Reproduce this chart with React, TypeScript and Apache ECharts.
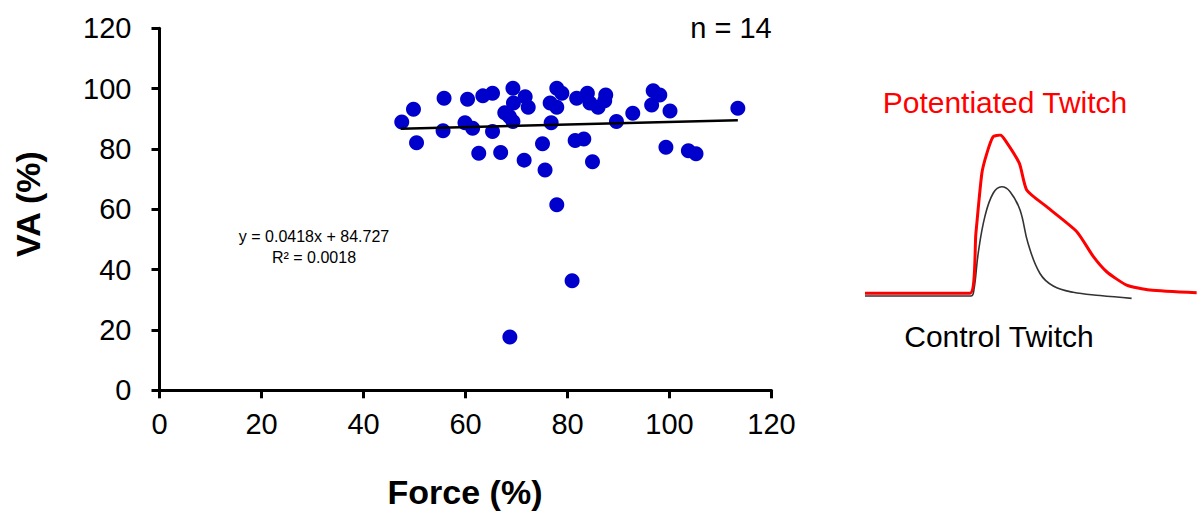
import { useEffect, useRef } from 'react'
import * as echarts from 'echarts/core'
import { GridComponent, GraphicComponent } from 'echarts/components'
import { ScatterChart, LineChart } from 'echarts/charts'
import { SVGRenderer } from 'echarts/renderers'

echarts.use([GridComponent, GraphicComponent, ScatterChart, LineChart, SVGRenderer])

// Force (%) vs VA (%) pairs
const forceValues = [
  47.5, 49.8, 50.4, 55.8, 55.6, 60.4, 59.9, 61.4, 63.4, 65.3,
  62.6, 65.3, 66.9, 69.3, 71.7, 69.4, 67.7, 72.3, 69.3, 68.6,
  71.5, 75.1, 75.6, 77.9, 78.9, 76.6, 77.9, 76.8, 81.5, 83.2,
  84.9, 81.8, 83.9, 84.4, 86.0, 87.5, 87.3, 89.6, 92.8, 96.8,
  98.1, 96.5, 100.1, 99.3, 103.7, 105.2, 113.4, 77.9, 80.9, 68.7,
]
const vaValues = [
  88.9, 93.2, 82.1, 96.8, 86.0, 96.5, 88.7, 86.9, 97.6, 98.5,
  78.6, 85.8, 78.8, 100.1, 97.3, 95.2, 92.0, 93.8, 89.1, 90.8,
  76.3, 81.7, 73.0, 100.1, 98.5, 95.2, 93.8, 88.7, 82.8, 83.3,
  75.8, 96.8, 98.5, 95.2, 93.8, 97.9, 96.0, 89.1, 91.8, 99.3,
  97.9, 94.6, 92.6, 80.6, 79.4, 78.4, 93.5, 61.5, 36.3, 17.7,
]

// trendline ends (y = 0.0418x + 84.727)
const trendX = [47.3, 113.4]
const trendY = [86.7, 89.5]

const axisTicks = [0, 20, 40, 60, 80, 100, 120]

// twitch traces (arbitrary time / force units)
const redTime = [0, 31.6, 33.4, 35.2, 36.7, 38.6, 40.7, 42.2, 46.5, 48.7, 54.7, 63.8, 68.8, 72.8, 78.8, 85.8, 99.9]
const redForce = [0, 0, 37.9, 75.8, 88.4, 98.9, 100, 96.8, 82.1, 65.3, 54.7, 38.9, 23.1, 13.6, 5.2, 2.1, 0.4]
const blackTime = [0, 31.9, 32.8, 34.1, 36.1, 38.6, 41.2, 43.7, 46.7, 49.1, 52.7, 56.7, 62.7, 70.8, 80.3]
const blackForce = [-1.7, -1.7, 2.1, 25.3, 48.4, 63.2, 67.3, 64.2, 52.6, 31.6, 12.5, 4.6, 0.6, -1.4, -3.2]

const FONT = 'Liberation Sans, Arial, sans-serif'

export default function App() {
  const chartRef = useRef<HTMLDivElement>(null)

  useEffect(() => {
    if (!chartRef.current) return
    const chart = echarts.init(chartRef.current, null, { renderer: 'svg' })

    const axisCommon = {
      type: 'value' as const,
      min: axisTicks[0],
      max: axisTicks[axisTicks.length - 1],
      interval: 20,
      axisLine: { show: true, lineStyle: { color: '#000', width: 3 } },
      axisTick: { show: true, length: 8, lineStyle: { color: '#000', width: 3 } },
      splitLine: { show: false },
    }

    chart.setOption({
      animation: false,
      grid: [
        { left: 159.5, top: 28.3, width: 612, height: 362 },
        { left: 865, top: 135, width: 332, height: 166.2 },
      ],
      xAxis: [
        {
          ...axisCommon,
          gridIndex: 0,
          axisLabel: { color: '#000', fontSize: 29, fontFamily: FONT, margin: 19 },
        },
        { type: 'value', gridIndex: 1, min: 0, max: 100, show: false },
      ],
      yAxis: [
        {
          ...axisCommon,
          gridIndex: 0,
          axisLabel: { color: '#000', fontSize: 29, fontFamily: FONT, margin: 28 },
        },
        { type: 'value', gridIndex: 1, min: -5, max: 100, show: false },
      ],
      series: [
        {
          type: 'scatter',
          xAxisIndex: 0,
          yAxisIndex: 0,
          symbolSize: 15,
          itemStyle: { color: '#0000cc', opacity: 1 },
          data: forceValues.map((f, i) => [f, vaValues[i]]),
          z: 3,
        },
        {
          type: 'line',
          xAxisIndex: 0,
          yAxisIndex: 0,
          symbol: 'none',
          lineStyle: { color: '#000', width: 2.5 },
          data: trendX.map((x, i) => [x, trendY[i]]),
          z: 4,
        },
        {
          type: 'line',
          xAxisIndex: 1,
          yAxisIndex: 1,
          symbol: 'none',
          smooth: 0.4,
          lineStyle: { color: '#333', width: 1.6 },
          data: blackTime.map((t, i) => [t, blackForce[i]]),
          z: 2,
        },
        {
          type: 'line',
          xAxisIndex: 1,
          yAxisIndex: 1,
          symbol: 'none',
          smooth: 0.2,
          lineStyle: { color: '#ff0000', width: 3 },
          data: redTime.map((t, i) => [t, redForce[i]]),
          z: 3,
        },
      ],
      graphic: [
        {
          type: 'text',
          x: 28,
          y: 204,
          rotation: Math.PI / 2,
          style: {
            text: 'VA (%)',
            font: `bold 34px ${FONT}`,
            fill: '#000',
            align: 'center',
            verticalAlign: 'middle',
          },
        },
        {
          type: 'text',
          x: 465,
          y: 492,
          style: {
            text: 'Force (%)',
            font: `bold 34px ${FONT}`,
            fill: '#000',
            align: 'center',
            verticalAlign: 'middle',
          },
        },
        {
          type: 'text',
          x: 731,
          y: 28,
          style: { text: 'n = 14', font: `29px ${FONT}`, fill: '#000', align: 'center', verticalAlign: 'middle' },
        },
        {
          type: 'text',
          x: 314,
          y: 236,
          style: { text: 'y = 0.0418x + 84.727', font: `16px ${FONT}`, fill: '#000', align: 'center', verticalAlign: 'middle' },
        },
        {
          type: 'text',
          x: 314,
          y: 257,
          style: { text: 'R² = 0.0018', font: `16px ${FONT}`, fill: '#000', align: 'center', verticalAlign: 'middle' },
        },
        {
          type: 'text',
          x: 1005,
          y: 102,
          style: { text: 'Potentiated Twitch', font: `30px ${FONT}`, fill: '#ff0000', align: 'center', verticalAlign: 'middle' },
        },
        {
          type: 'text',
          x: 999,
          y: 336,
          style: { text: 'Control Twitch', font: `30px ${FONT}`, fill: '#000', align: 'center', verticalAlign: 'middle' },
        },
      ],
    })

    return () => {
      chart.dispose()
    }
  }, [])

  return (
    <div
      ref={chartRef}
      style={{ position: 'fixed', left: 0, top: 0, width: '1197px', height: '512px', background: '#fff' }}
    />
  )
}
